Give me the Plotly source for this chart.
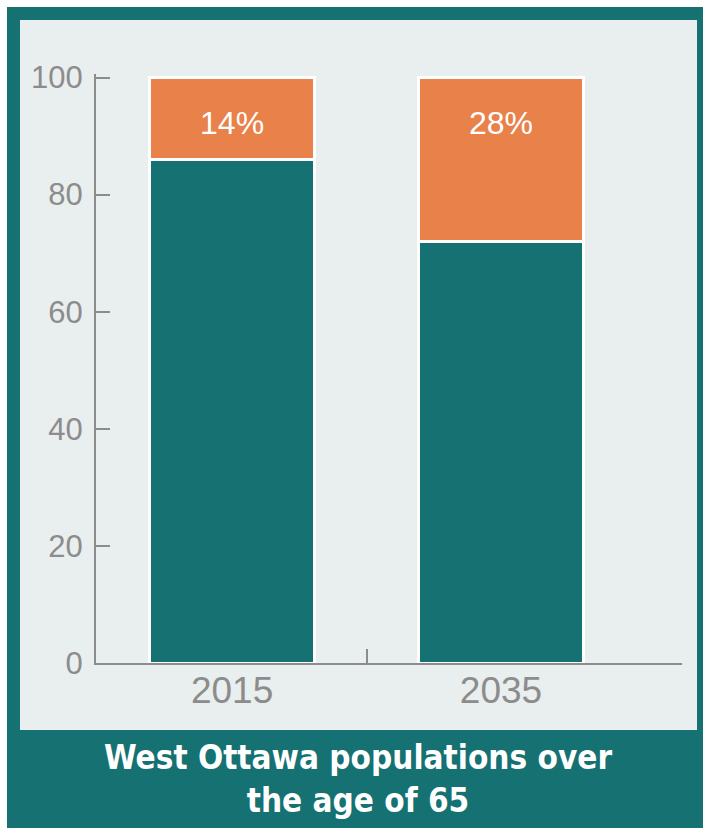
import plotly.graph_objects as go

# ---- data ----
years = ["2015", "2035"]
under_65 = [86, 72]
over_65 = [14, 28]
y_ticks = [0, 20, 40, 60, 80, 100]
title_text = "West Ottawa populations over<br>the age of 65"

# ---- style ----
W, H = 703, 828
TEAL = "#167172"
ORANGE = "#e8814a"
BG = "#e9eeee"
GREY = "#8c8c8c"

L, R, T, B = 96, 21, 74, 165
pw, ph = W - L - R, H - T - B

def px_x(x):
    return (x - L) / pw

def px_y(y):
    return (H - B - y) / ph

totals = [u + o for u, o in zip(under_65, over_65)]
label_offset = 8.2  # label sits a fixed distance below the bar top

fig = go.Figure()
fig.add_trace(go.Bar(
    x=years, y=under_65, marker=dict(color=TEAL, line=dict(color="white", width=3)),
    width=0.613, hoverinfo="skip"))
fig.add_trace(go.Bar(
    x=years, y=over_65, marker=dict(color=ORANGE, line=dict(color="white", width=3)),
    width=0.613, hoverinfo="skip"))
fig.add_trace(go.Scatter(
    x=years, y=[t - label_offset for t in totals], mode="text",
    text=[f"{v}%" for v in over_65], textposition="middle center",
    textfont=dict(family="Liberation Sans Narrow, Liberation Sans, Arial", size=32, color="white"),
    hoverinfo="skip"))
# invisible trace to carry the middle separator tick on xaxis2
fig.add_trace(go.Scatter(x=[0.5], y=[0], xaxis="x2", yaxis="y", mode="markers",
                         marker=dict(opacity=0), hoverinfo="skip", showlegend=False))

xr = [-0.506, 1.673]
fig.update_layout(
    width=W, height=H, barmode="stack", showlegend=False,
    margin=dict(l=L, r=R, t=T, b=B, pad=0),
    paper_bgcolor="white", plot_bgcolor=BG,
    xaxis=dict(type="category", range=xr, showline=True, linecolor=GREY, linewidth=2,
               ticks="", showgrid=False, layer="below traces",
               tickfont=dict(family="Liberation Sans, Arial", size=37, color=GREY),
               ticklabelstandoff=-6, fixedrange=True),
    xaxis2=dict(overlaying="x", anchor="y", side="bottom", range=xr, showline=False,
                ticks="inside", ticklen=14, tickwidth=2, tickcolor=GREY,
                tickvals=[0.5], showticklabels=False, showgrid=False, zeroline=False),
    yaxis=dict(range=[0, 100.6], tickvals=y_ticks, showline=True, linecolor=GREY, linewidth=2,
               ticks="inside", ticklen=14, tickwidth=2, tickcolor=GREY, showgrid=False,
               zeroline=False,
               tickfont=dict(family="Liberation Sans, Arial", size=31, color=GREY),
               ticklabelstandoff=5),
    shapes=[
        dict(type="rect", xref="paper", yref="paper", layer="below",
             x0=px_x(7), x1=px_x(W + 2), y0=px_y(7), y1=px_y(H + 2),
             fillcolor=TEAL, line=dict(width=0)),
        dict(type="rect", xref="paper", yref="paper", layer="below",
             x0=px_x(20), x1=px_x(697), y0=px_y(20), y1=px_y(730),
             fillcolor=BG, line=dict(width=0)),
    ],
    annotations=[dict(text=f"<b>{title_text}</b>", xref="paper", yref="paper",
                      x=px_x(358), y=px_y(779), xanchor="center", yanchor="middle",
                      showarrow=False, align="center",
                      font=dict(family="DejaVu Sans Condensed, DejaVu Sans", size=33, color="white"))],
)

fig.write_html("out.html", config={"displayModeBar": False},
               post_script="document.body.style.margin='0';document.body.style.padding='0';")
